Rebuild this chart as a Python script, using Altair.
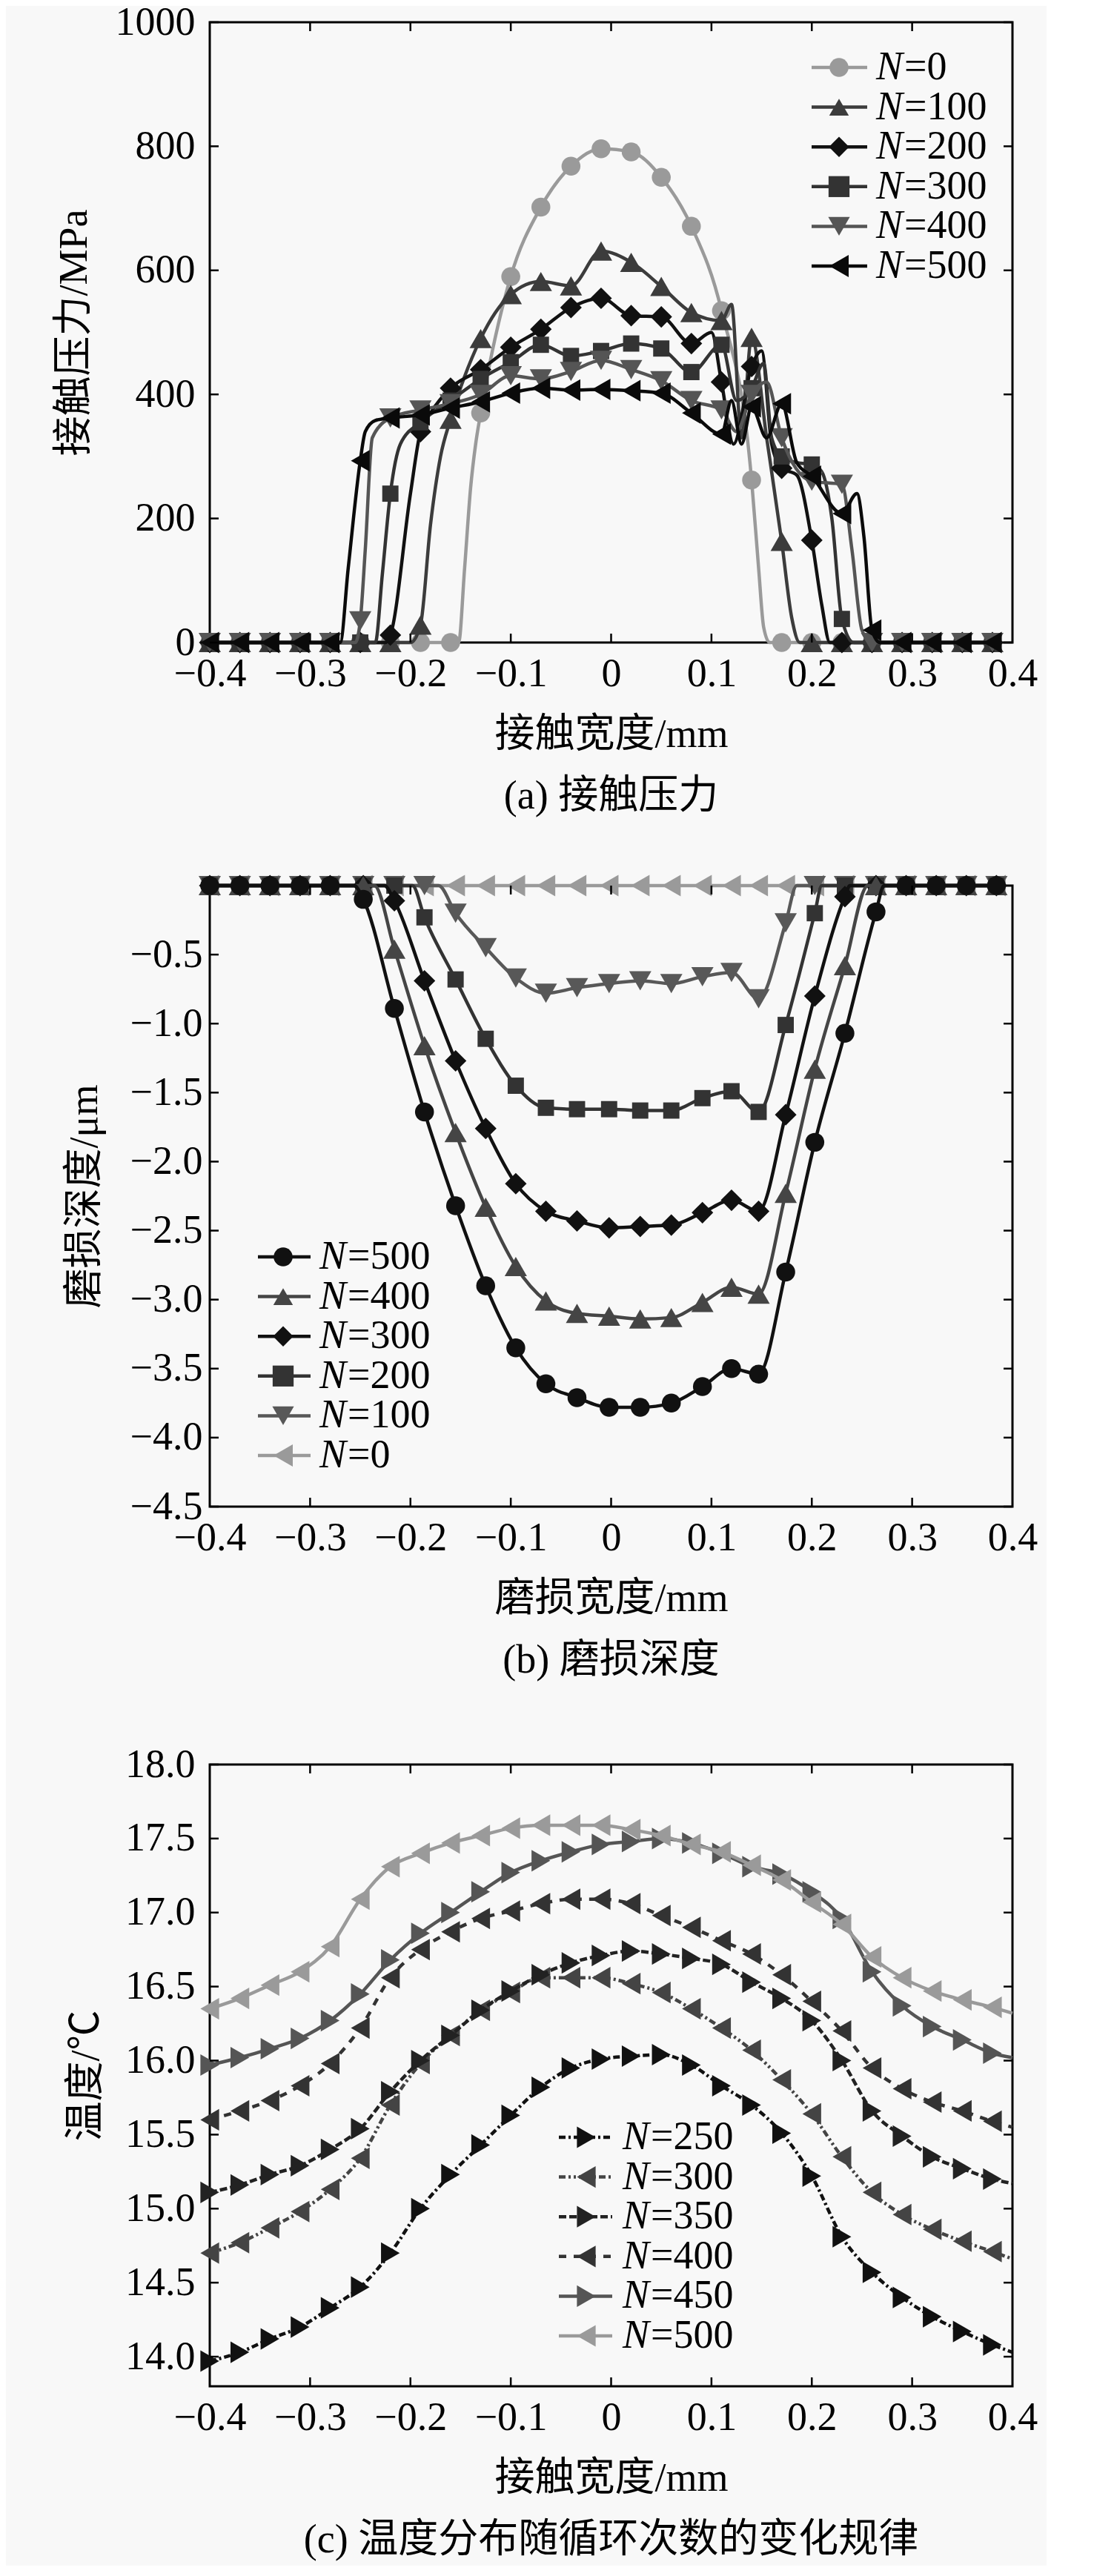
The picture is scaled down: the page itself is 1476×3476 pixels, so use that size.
import pandas as pd
import altair as alt

FONT = "Liberation Serif, Noto Sans CJK SC"
FS = 54
W = 1083

# ---------------- (a) contact pressure ----------------
A_X = [-0.40, -0.37, -0.34, -0.31, -0.28, -0.25, -0.22, -0.19, -0.16, -0.13, -0.10, -0.07, -0.04, -0.01,
       0.02, 0.05, 0.08, 0.11, 0.14, 0.17, 0.20, 0.23, 0.26, 0.29, 0.32, 0.35, 0.38]
A_N0 = [0, 0, 0, 0, 0, 0, 0, 0, 0, 370, 590, 702, 768, 796, 791, 750, 671, 535, 262, 0, 0, 0, 0, 0, 0, 0, 0]
A_N100 = [0, 0, 0, 0, 0, 0, 0, 28, 360, 490, 561, 582, 575, 631, 613, 574, 532, 519, 492, 163, 0, 0, 0, 0, 0, 0, 0]
A_N200 = [0, 0, 0, 0, 0, 0, 12, 340, 410, 440, 476, 505, 540, 555, 527, 525, 482, 420, 445, 281, 165, 0, 0, 0, 0, 0, 0]
A_N300 = [0, 0, 0, 0, 0, 0, 240, 355, 390, 425, 452, 480, 462, 470, 482, 474, 436, 480, 410, 300, 287, 38, 0, 0, 0, 0, 0]
A_N400 = [0, 0, 0, 0, 0, 35, 362, 375, 385, 400, 430, 425, 437, 455, 440, 422, 390, 375, 400, 330, 260, 255, 0, 0, 0, 0, 0]
A_N500 = [0, 0, 0, 0, 0, 293, 362, 367, 378, 388, 402, 410, 407, 408, 406, 402, 370, 336, 380, 385, 268, 208, 20, 0, 0, 0, 0]
# extra line points (no marker) read along the steep edges
A_N0_EX = ([-0.152, -0.146, -0.14, -0.135, 0.147, 0.152, 0.158], [0, 120, 250, 320, 120, 25, 0])
A_N100_EX = ([-0.20, -0.18, -0.17, 0.12, 0.13, 0.155, 0.18, 0.188], [0, 190, 300, 545, 330, 330, 40, 0])
A_N200_EX = ([-0.225, -0.20, -0.18, 0.10, 0.122, 0.15, 0.16, 0.185, 0.21, 0.218],
             [0, 240, 370, 500, 320, 470, 320, 270, 60, 0])
A_N300_EX = ([-0.235, -0.228, -0.21, 0.125, 0.152, 0.16, 0.185, 0.21, 0.22, 0.242],
             [0, 110, 320, 390, 450, 330, 290, 275, 200, 0])
A_N400_EX = ([-0.255, -0.245, -0.238, 0.125, 0.155, 0.24, 0.25], [0, 150, 330, 340, 420, 150, 20])
A_N500_EX = ([-0.27, -0.262, -0.245, -0.235, 0.12, 0.13, 0.155, 0.185, 0.245, 0.252, 0.268],
             [0, 120, 340, 358, 390, 320, 330, 290, 240, 170, 0])
A_LABELS = ["=0", "=100", "=200", "=300", "=400", "=500"]

# ---------------- (b) wear depth ----------------
B_X = [-0.40, -0.37, -0.34, -0.31, -0.28, -0.247, -0.216, -0.186, -0.155, -0.125, -0.095, -0.065, -0.034, -0.002,
       0.029, 0.06, 0.091, 0.12, 0.147, 0.174, 0.203, 0.233, 0.264, 0.294, 0.324, 0.354, 0.384]
B_N500 = [0, 0, 0, 0, 0, -0.10, -0.89, -1.64, -2.32, -2.90, -3.35, -3.61, -3.71, -3.78, -3.78, -3.75, -3.63,
          -3.50, -3.54, -2.80, -1.86, -1.07, -0.19, 0, 0, 0, 0]
B_N400 = [0, 0, 0, 0, 0, 0, -0.46, -1.16, -1.79, -2.33, -2.76, -3.01, -3.10, -3.12, -3.14, -3.13, -3.02,
          -2.91, -2.96, -2.23, -1.33, -0.58, 0, 0, 0, 0, 0]
B_N300 = [0, 0, 0, 0, 0, 0, -0.11, -0.69, -1.27, -1.76, -2.16, -2.36, -2.43, -2.48, -2.47, -2.46, -2.37,
          -2.28, -2.36, -1.66, -0.80, -0.08, 0, 0, 0, 0, 0]
B_N200 = [0, 0, 0, 0, 0, 0, 0, -0.23, -0.68, -1.11, -1.45, -1.61, -1.62, -1.62, -1.63, -1.63, -1.54,
          -1.49, -1.64, -1.01, -0.20, 0, 0, 0, 0, 0, 0]
B_N100 = [0, 0, 0, 0, 0, 0, 0, 0, -0.20, -0.45, -0.67, -0.78, -0.74, -0.71, -0.69, -0.71, -0.66,
          -0.63, -0.82, -0.27, 0, 0, 0, 0, 0, 0, 0]
B_N0 = [0] * 27
B_N500_EX = ([-0.256, 0.272], [0, 0])
B_N400_EX = ([-0.236, 0.256], [0, 0])
B_N300_EX = ([-0.226, 0.238], [0, 0])
B_N200_EX = ([-0.198, 0.21], [0, 0])
B_N100_EX = ([-0.172, 0.185], [0, 0])
B_LABELS = ["=500", "=400", "=300", "=200", "=100", "=0"]

# ---------------- (c) temperature ----------------
C_X = [-0.40, -0.37, -0.34, -0.31, -0.28, -0.25, -0.22, -0.19, -0.16, -0.13, -0.10, -0.07, -0.04, -0.01,
       0.02, 0.05, 0.08, 0.11, 0.14, 0.17, 0.20, 0.23, 0.26, 0.29, 0.32, 0.35, 0.38]
C_N250 = [13.97, 14.03, 14.12, 14.20, 14.33, 14.47, 14.70, 15.00, 15.23, 15.43, 15.63, 15.82, 15.95, 16.01,
          16.03, 16.04, 15.97, 15.83, 15.70, 15.51, 15.22, 14.81, 14.57, 14.40, 14.27, 14.17, 14.08]
C_N300 = [14.70, 14.77, 14.87, 14.98, 15.13, 15.34, 15.70, 15.98, 16.17, 16.34, 16.46, 16.56, 16.56, 16.56,
          16.52, 16.46, 16.35, 16.22, 16.07, 15.87, 15.64, 15.35, 15.11, 14.96, 14.86, 14.78, 14.71]
C_N350 = [15.11, 15.16, 15.23, 15.29, 15.40, 15.54, 15.79, 16.00, 16.17, 16.34, 16.47, 16.58, 16.66, 16.71,
          16.74, 16.72, 16.69, 16.65, 16.53, 16.42, 16.27, 16.00, 15.66, 15.49, 15.35, 15.27, 15.20]
C_N400 = [15.60, 15.66, 15.73, 15.83, 15.98, 16.22, 16.56, 16.75, 16.87, 16.96, 17.01, 17.06, 17.09, 17.09,
          17.06, 16.98, 16.90, 16.81, 16.72, 16.58, 16.40, 16.20, 15.95, 15.81, 15.72, 15.66, 15.59]
C_N450 = [15.97, 16.02, 16.08, 16.15, 16.27, 16.45, 16.68, 16.86, 17.00, 17.14, 17.27, 17.35, 17.41, 17.46,
          17.48, 17.50, 17.47, 17.40, 17.31, 17.26, 17.14, 16.96, 16.60, 16.37, 16.23, 16.14, 16.05]
C_N500 = [16.35, 16.42, 16.51, 16.60, 16.77, 17.09, 17.31, 17.40, 17.47, 17.52, 17.57, 17.59, 17.59, 17.59,
          17.56, 17.52, 17.46, 17.41, 17.32, 17.22, 17.07, 16.92, 16.70, 16.56, 16.47, 16.41, 16.36]
# line values at the right frame (x = 0.4), no marker
C_END = [14.03, 14.66, 15.17, 15.55, 16.02, 16.32]
C_LABELS = ["=250", "=300", "=350", "=400", "=450", "=500"]

X_TICKS = [-0.4, -0.3, -0.2, -0.1, 0.0, 0.1, 0.2, 0.3, 0.4]

SHAPE_SIZE = {"circle": 650, "square": 480, "diamond": 850,
              "triangle-up": 900, "triangle-down": 900, "triangle-left": 850, "triangle-right": 850}
FRAME = alt.ViewBackground(stroke="black", strokeWidth=3)


def series_df(xs, ys, extra=None):
    rows = [{"x": x, "y": y, "m": True} for x, y in zip(xs, ys)]
    if extra:
        rows += [{"x": x, "y": y, "m": False} for x, y in zip(*extra)]
    return pd.DataFrame(rows).sort_values("x").reset_index(drop=True)


def axis_x(title):
    return alt.Axis(title=title, values=X_TICKS, format=".1~f", labelFont=FONT, labelFontSize=FS,
                    titleFont=FONT, titleFontSize=FS, titleFontWeight="normal", labelColor="black",
                    titleColor="black", domain=False, ticks=False, tickSize=0, grid=False,
                    labelPadding=15, titlePadding=28, labelFlush=False, labelOverlap=False)


def axis_y(title, values, fmt, lpad, tpad):
    return alt.Axis(title=title, values=values, format=fmt, labelFont=FONT, labelFontSize=FS,
                    titleFont=FONT, titleFontSize=FS, titleFontWeight="normal", labelColor="black",
                    titleColor="black", domain=False, ticks=False, tickSize=0, grid=False,
                    labelPadding=lpad, titlePadding=tpad, labelFlush=False, labelOverlap=False)


def panel(series, ydom, xtitle, ytitle, yticks, yfmt, lpad, tpad, h, legend, caption):
    X = alt.X("x:Q", scale=alt.Scale(domain=[-0.4, 0.4], nice=False, zero=False), axis=axis_x(xtitle))
    Y = alt.Y("y:Q", scale=alt.Scale(domain=ydom, nice=False, zero=False),
              axis=axis_y(ytitle, yticks, yfmt, lpad, tpad))
    layers = []
    for df, color, shape, dash in series:
        kw = {"strokeDash": dash} if dash else {}
        layers.append(alt.Chart(df).mark_line(interpolate="monotone", color=color, strokeWidth=4.5, **kw)
                      .encode(x=X, y=Y))
        layers.append(alt.Chart(df).transform_filter("datum.m").mark_point(
            shape=shape, filled=True, size=SHAPE_SIZE[shape], color=color, opacity=1)
            .encode(x=X, y=Y))

    # inward ticks on all four sides
    xt = pd.DataFrame({"x": X_TICKS[1:-1]})
    yt = pd.DataFrame({"y": yticks})
    tl = 12
    layers.append(alt.Chart(xt).mark_rule(color="black", strokeWidth=2.5)
                  .encode(x=X, y=alt.value(h), y2=alt.value(h - tl)))
    layers.append(alt.Chart(xt).mark_rule(color="black", strokeWidth=2.5)
                  .encode(x=X, y=alt.value(0), y2=alt.value(tl)))
    layers.append(alt.Chart(yt).mark_rule(color="black", strokeWidth=2.5)
                  .encode(y=Y, x=alt.value(0), x2=alt.value(tl)))
    layers.append(alt.Chart(yt).mark_rule(color="black", strokeWidth=2.5)
                  .encode(y=Y, x=alt.value(W), x2=alt.value(W - tl)))
    data_group = alt.layer(*layers)

    # hand-built legend with italic N
    labels, colors, shapes, dashes, rows, lx0, lx1, mx, tx = legend
    ldf = pd.DataFrame({"label": labels})
    LY = alt.Y("label:N", scale=alt.Scale(type="point", domain=labels, range=rows, padding=0), axis=None)
    LC = alt.Color("label:N", scale=alt.Scale(domain=labels, range=colors), legend=None)
    leg = alt.layer(
        alt.Chart(ldf).mark_rule(strokeWidth=4.5).encode(
            x=alt.value(lx0), x2=alt.value(lx1), y=LY, color=LC,
            strokeDash=alt.StrokeDash("label:N", scale=alt.Scale(domain=labels, range=dashes), legend=None)),
        alt.Chart(ldf).mark_point(filled=True, opacity=1).encode(
            x=alt.value(mx), y=LY, color=LC,
            shape=alt.Shape("label:N", scale=alt.Scale(domain=labels, range=shapes), legend=None),
            size=alt.Size("label:O", scale=alt.Scale(domain=labels, range=[SHAPE_SIZE[s] for s in shapes]),
                          legend=None)),
        alt.Chart(ldf).mark_text(text="N", font=FONT, fontSize=FS, fontStyle="italic", align="left",
                                 baseline="middle", color="black").encode(x=alt.value(tx), y=LY),
        alt.Chart(ldf).mark_text(font=FONT, fontSize=FS, align="left", baseline="middle", color="black")
        .encode(x=alt.value(tx + 38), y=LY, text="label:N"),
    )
    return alt.layer(data_group, leg).resolve_scale(y="independent").properties(
        width=W, height=h, view=FRAME,
        title=alt.TitleParams(text=caption, orient="bottom", anchor="middle", font=FONT, fontSize=FS,
                              fontWeight="normal", color="black", offset=30))


def spacer(h):
    # empty, frameless block that sets the gap between two panels
    return alt.Chart(pd.DataFrame({"s": [0]})).mark_point(opacity=0).encode(
        x=alt.X("s:Q", axis=None), y=alt.Y("s:Q", axis=None)
    ).properties(width=W, height=h, view=alt.ViewBackground(stroke="transparent"))


A_COL = ["#9a9a9a", "#3c3c3c", "#111111", "#333333", "#555555", "#0a0a0a"]
A_SHP = ["circle", "triangle-up", "diamond", "square", "triangle-down", "triangle-left"]
a_series = [
    (series_df(A_X, A_N0, A_N0_EX), A_COL[0], A_SHP[0], None),
    (series_df(A_X, A_N100, A_N100_EX), A_COL[1], A_SHP[1], None),
    (series_df(A_X, A_N200, A_N200_EX), A_COL[2], A_SHP[2], None),
    (series_df(A_X, A_N300, A_N300_EX), A_COL[3], A_SHP[3], None),
    (series_df(A_X, A_N400, A_N400_EX), A_COL[4], A_SHP[4], None),
    (series_df(A_X, A_N500, A_N500_EX), A_COL[5], A_SHP[5], None),
]
chart_a = panel(a_series, [0, 1000], "接触宽度/mm", "接触压力/MPa",
                [0, 200, 400, 600, 800, 1000], "d", 20, 28, 837,
                (A_LABELS, A_COL, A_SHP, [[1, 0]] * 6, [61, 329], 812, 887, 849, 899), "(a) 接触压力")

B_COL = ["#111111", "#454545", "#111111", "#333333", "#585858", "#9a9a9a"]
B_SHP = ["circle", "triangle-up", "diamond", "square", "triangle-down", "triangle-left"]
b_series = [
    (series_df(B_X, B_N0), B_COL[5], B_SHP[5], None),
    (series_df(B_X, B_N100, B_N100_EX), B_COL[4], B_SHP[4], None),
    (series_df(B_X, B_N200, B_N200_EX), B_COL[3], B_SHP[3], None),
    (series_df(B_X, B_N300, B_N300_EX), B_COL[2], B_SHP[2], None),
    (series_df(B_X, B_N400, B_N400_EX), B_COL[1], B_SHP[1], None),
    (series_df(B_X, B_N500, B_N500_EX), B_COL[0], B_SHP[0], None),
]
chart_b = panel(b_series, [-4.5, 0], "磨损宽度/mm", "磨损深度/μm",
                [-4.5, -4.0, -3.5, -3.0, -2.5, -2.0, -1.5, -1.0, -0.5], ".1f", 10, 34, 838,
                (B_LABELS, B_COL, B_SHP, [[1, 0]] * 6, [501, 769], 65, 136, 99, 148), "(b) 磨损深度")

C_COL = ["#111111", "#444444", "#222222", "#333333", "#555555", "#9a9a9a"]
C_SHP = ["triangle-right", "triangle-left", "triangle-right", "triangle-left", "triangle-right", "triangle-left"]
C_DASH = [[9, 4, 3, 4], [9, 4, 3, 4, 3, 4], [10, 4], [10, 10], None, None]
c_vals = [C_N250, C_N300, C_N350, C_N400, C_N450, C_N500]
c_series = [(series_df(C_X, v, ([0.4], [e])), C_COL[i], C_SHP[i], C_DASH[i])
            for i, (v, e) in enumerate(zip(c_vals, C_END))]
chart_c = panel(c_series, [13.8, 18.0], "接触宽度/mm", "温度/℃",
                [14.0, 14.5, 15.0, 15.5, 16.0, 16.5, 17.0, 17.5, 18.0], ".1f", 20, 25, 839,
                (C_LABELS, C_COL, C_SHP, [d if d else [1, 0] for d in C_DASH], [503, 771], 471, 543, 508, 557),
                "(c) 温度分布随循环次数的变化规律")

chart = alt.vconcat(chart_a, spacer(328), chart_b, spacer(348), chart_c, spacing=0, bounds="flush").resolve_scale(
    color="independent", shape="independent", size="independent", strokeDash="independent"
).properties(
    padding={"left": 63, "top": -7, "right": 10, "bottom": 5}
).configure(background="#f8f8f8").configure_view(stroke="transparent")

chart.save("out.html", embed_options={"renderer": "svg", "actions": False})
